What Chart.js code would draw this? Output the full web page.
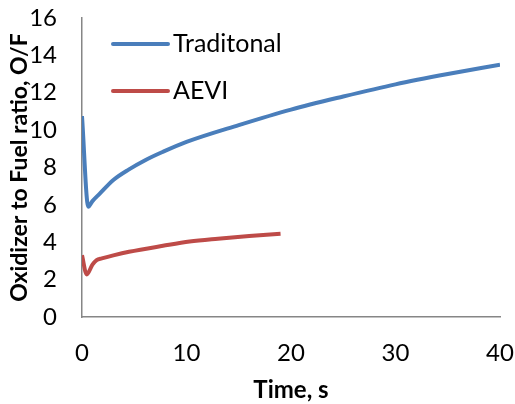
<!DOCTYPE html>
<html>
<head>
<meta charset="utf-8">
<script src="https://cdn.jsdelivr.net/npm/chart.js@4.4.1/dist/chart.umd.min.js"></script>
<style>
  html, body { margin: 0; padding: 0; background: #fff; }
  #wrap { width: 515px; height: 404px; }
</style>
</head>
<body>
<div id="wrap"><canvas id="ofChart" width="515" height="404"></canvas></div>
<script>
// Time (s) and O/F values
const tradTime = [0, 0.6, 1, 1.7, 3, 4.5, 6, 7.75, 10, 15, 20, 25, 30, 35, 40];
const tradOF = [10.75, 5.9, 6.2, 6.6, 7.33, 7.9, 8.38, 8.84, 9.37, 10.27, 11.1, 11.8, 12.45, 13.0, 13.5];

const aeviTime = [0, 0.45, 1, 1.4, 1.9, 3, 4.5, 7.75, 10.3, 13, 16, 19];
const aeviOF = [3.3, 2.28, 2.8, 3.05, 3.14, 3.3, 3.49, 3.81, 4.04, 4.19, 4.33, 4.45];

const xTicks = [0, 10, 20, 30, 40];
const yTicks = [0, 2, 4, 6, 8, 10, 12, 14, 16];

const FONT = 'Lato';

function toPoints(xs, ys) {
    return xs.map((x, i) => ({ x: x, y: ys[i] }));
}

// Legend drawn inside the plot area, like the original
const insideLegend = {
    id: 'insideLegend',
    afterDraw(chart) {
        const ctx = chart.ctx;
        const rows = [44, 91];
        ctx.save();
        chart.data.datasets.forEach((ds, i) => {
            const y = rows[i];
            ctx.strokeStyle = ds.borderColor;
            ctx.lineWidth = 4;
            ctx.lineCap = 'round';
            ctx.beginPath();
            ctx.moveTo(113, y);
            ctx.lineTo(168, y);
            ctx.stroke();
            ctx.fillStyle = '#000';
            ctx.font = '25px ' + FONT;
            ctx.textBaseline = 'middle';
            ctx.textAlign = 'left';
            ctx.fillText(ds.label, 173, y);
        });
        ctx.restore();
    }
};

const ctx = document.getElementById('ofChart').getContext('2d');
new Chart(ctx, {
    type: 'line',
    data: {
        datasets: [{
            label: 'Traditonal',
            data: toPoints(tradTime, tradOF),
            borderColor: '#4a7ebb',
            borderWidth: 4,
            pointRadius: 0,
            cubicInterpolationMode: 'monotone',
            fill: false
        }, {
            label: 'AEVI',
            data: toPoints(aeviTime, aeviOF),
            borderColor: '#be4b48',
            borderWidth: 4,
            pointRadius: 0,
            cubicInterpolationMode: 'monotone',
            fill: false
        }]
    },
    options: {
        responsive: false,
        animation: false,
        layout: { padding: { left: 0, right: 15, top: 18, bottom: 0 } },
        plugins: {
            legend: { display: false },
            tooltip: { enabled: false }
        },
        scales: {
            x: {
                type: 'linear',
                min: 0,
                max: 40,
                afterBuildTicks: (scale) => { scale.ticks = xTicks.map(v => ({ value: v })); },
                afterFit: (scale) => {
                    scale.height = 87;
                    scale.paddingLeft = 0;
                    scale.paddingRight = 0;
                },
                grid: { display: false, drawTicks: false },
                border: { display: true, color: '#868686', width: 1.5 },
                ticks: { color: '#000', padding: 22, font: { family: FONT, size: 24 } },
                title: {
                    display: true,
                    text: 'Time, s',
                    color: '#000',
                    font: { family: FONT, size: 24, weight: 'bold' },
                    padding: { top: 6, bottom: -1 }
                }
            },
            y: {
                min: 0,
                max: 16,
                afterBuildTicks: (scale) => { scale.ticks = yTicks.map(v => ({ value: v })); },
                afterFit: (scale) => {
                    scale.width = 82;
                    scale.paddingTop = 0;
                    scale.paddingBottom = 0;
                },
                grid: { display: false, drawTicks: false },
                border: { display: true, color: '#868686', width: 1.5 },
                ticks: { color: '#000', padding: 25, font: { family: FONT, size: 24 } },
                title: {
                    display: true,
                    text: 'Oxidizer to Fuel ratio, O/F',
                    color: '#000',
                    font: { family: FONT, size: 23, weight: 'bold' },
                    padding: { top: 6, bottom: 0 }
                }
            }
        }
    },
    plugins: [insideLegend]
});
</script>
</body>
</html>
